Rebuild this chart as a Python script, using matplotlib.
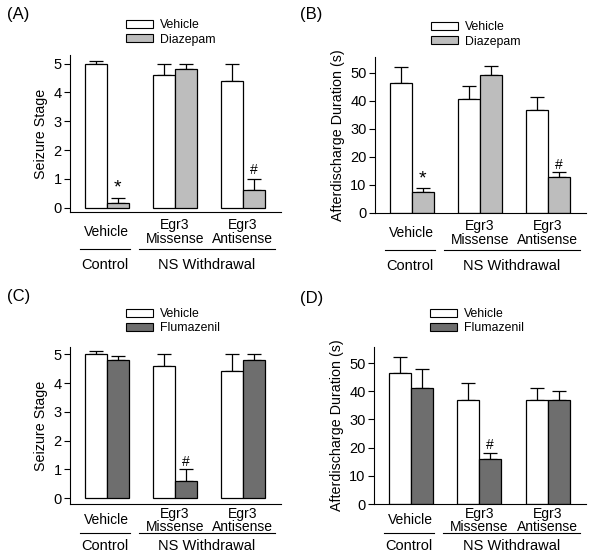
import numpy as np
import matplotlib.pyplot as plt
from matplotlib.patches import Patch
from matplotlib.lines import Line2D

plt.rcParams['font.family'] = ['Liberation Sans', 'DejaVu Sans']

# Data
groups = ['Vehicle', 'Egr3\nMissense', 'Egr3\nAntisense']

a_vehicle = [5.0, 4.6, 4.4]
a_vehicle_err = [0.1, 0.4, 0.6]
a_diazepam = [0.17, 4.8, 0.6]
a_diazepam_err = [0.18, 0.2, 0.4]

b_vehicle = [46.5, 40.8, 36.8]
b_vehicle_err = [5.5, 4.5, 4.5]
b_diazepam = [7.5, 49.3, 12.8]
b_diazepam_err = [1.5, 3.2, 1.8]

c_vehicle = [5.0, 4.6, 4.4]
c_vehicle_err = [0.1, 0.4, 0.6]
c_flumazenil = [4.8, 0.6, 4.8]
c_flumazenil_err = [0.15, 0.4, 0.2]

d_vehicle = [46.5, 36.8, 36.8]
d_vehicle_err = [5.5, 6.0, 4.5]
d_flumazenil = [41.0, 16.0, 37.0]
d_flumazenil_err = [7.0, 2.0, 3.0]

LIGHT = '#bdbdbd'
DARK = '#6e6e6e'


def draw_panel(ax, veh, veh_err, drug, drug_err, drug_name, drug_color,
               ylabel, ylim, yticks, marks, offs, leg_y):
    # offs = (category label, underline, group label) distances below the axis, px
    x = np.arange(len(groups))
    w = 0.32
    for xs, vals, errs, col in [(x - w / 2, veh, veh_err, 'white'),
                                (x + w / 2, drug, drug_err, drug_color)]:
        ax.bar(xs, vals, w, color=col, edgecolor='black', linewidth=0.9, zorder=2)
        ax.errorbar(xs, vals, yerr=[np.zeros(len(vals)), errs], fmt='none',
                    ecolor='black', elinewidth=0.9, capsize=5, capthick=0.9, zorder=1)

    for gi, sym, yv in marks:
        ax.text(x[gi] + w / 2, yv, sym, ha='center', va='center',
                fontsize=14 if sym == '*' else 10)

    ax.set_xlim(-0.54, 2.56)
    ax.set_ylim(*ylim)
    ax.set_yticks(yticks)
    ax.set_xticks([])
    ax.spines['top'].set_visible(False)
    ax.spines['right'].set_visible(False)
    ax.tick_params(axis='y', labelsize=10.5, length=4, width=0.8, pad=2)
    ax.set_ylabel(ylabel, fontsize=10.3, labelpad=4)

    h = 157.0
    cat, line, grp = [o / h for o in offs]
    trans = ax.get_xaxis_transform()
    for xi, g in zip(x, groups):
        ax.text(xi, -cat, g, transform=trans, ha='center', va='center',
                fontsize=10, linespacing=0.95)
    ax.add_line(Line2D([-0.40, 0.34], [-line, -line], transform=trans,
                       color='black', lw=0.8, clip_on=False))
    ax.add_line(Line2D([0.47, 2.47], [-line, -line], transform=trans,
                       color='black', lw=0.8, clip_on=False))
    ax.text(-0.03, -grp, 'Control', transform=trans, ha='center', va='center', fontsize=10.5)
    ax.text(1.47, -grp, 'NS Withdrawal', transform=trans, ha='center', va='center', fontsize=10.5)

    handles = [Patch(facecolor='white', edgecolor='black', linewidth=0.8, label='Vehicle'),
               Patch(facecolor=drug_color, edgecolor='black', linewidth=0.8, label=drug_name)]
    ax.legend(handles=handles, loc='lower left', bbox_to_anchor=(0.265, leg_y),
              frameon=False, fontsize=8.8, handlelength=2.2, handleheight=0.65,
              handletextpad=0.55, labelspacing=0.2, borderpad=0, borderaxespad=0)


fig = plt.figure(figsize=(6, 5.6), dpi=100)
axA = fig.add_axes([70 / 600, 1 - 212 / 560, 211 / 600, 157 / 560])
axB = fig.add_axes([375 / 600, 1 - 213 / 560, 211 / 600, 156 / 560])
axC = fig.add_axes([70 / 600, 1 - 504 / 560, 211 / 600, 157 / 560])
axD = fig.add_axes([374 / 600, 1 - 504 / 560, 212 / 600, 157 / 560])

top_offs = (20, 37, 53)
bot_offs = (16.5, 28.5, 42)

draw_panel(axA, a_vehicle, a_vehicle_err, a_diazepam, a_diazepam_err, 'Diazepam', LIGHT,
           'Seizure Stage', (-0.15, 5.3), [0, 1, 2, 3, 4, 5],
           [(0, '*', 0.7), (2, '#', 1.32)], top_offs, 1.06)
draw_panel(axB, b_vehicle, b_vehicle_err, b_diazepam, b_diazepam_err, 'Diazepam', LIGHT,
           'Afterdischarge Duration (s)', (0, 55.7), [0, 10, 20, 30, 40, 50],
           [(0, '*', 12.0), (2, '#', 17.1)], top_offs, 1.06)
draw_panel(axC, c_vehicle, c_vehicle_err, c_flumazenil, c_flumazenil_err, 'Flumazenil', DARK,
           'Seizure Stage', (-0.2, 5.25), [0, 1, 2, 3, 4, 5],
           [(1, '#', 1.25)], bot_offs, 1.08)
draw_panel(axD, d_vehicle, d_vehicle_err, d_flumazenil, d_flumazenil_err, 'Flumazenil', DARK,
           'Afterdischarge Duration (s)', (0, 55.7), [0, 10, 20, 30, 40, 50],
           [(1, '#', 20.9)], bot_offs, 1.08)

for lbl, fx, fy in [('(A)', 7, 15), ('(B)', 300, 15), ('(C)', 7, 297), ('(D)', 300, 298)]:
    fig.text(fx / 600, 1 - fy / 560, lbl, ha='left', va='center', fontsize=12)

fig.savefig('out.png', dpi=100)
